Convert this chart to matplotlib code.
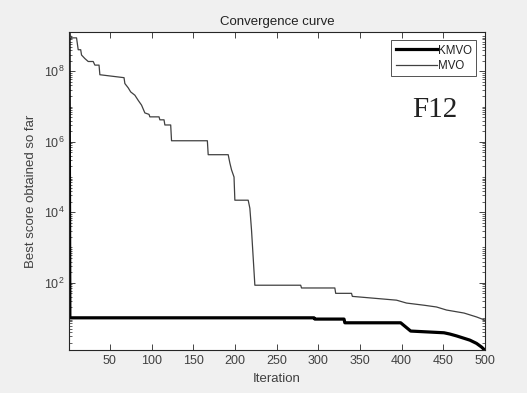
import matplotlib
matplotlib.use("Agg")
import matplotlib.pyplot as plt
from matplotlib.ticker import LogLocator, NullFormatter, FixedLocator

plt.rcParams["font.family"] = ["Liberation Sans", "DejaVu Sans"]

# KMVO best score per iteration (breakpoints)
kmvo_iter = [1, 2, 295, 296, 331, 332, 399, 411, 451, 458, 466, 474, 482, 490, 496, 500]
kmvo_val = [1.3e9, 10.1, 10.1, 9.3, 9.3, 7.3, 7.3, 4.25, 3.8, 3.5, 3.1, 2.7, 2.35, 1.9, 1.5, 1.22]

# MVO best score per iteration (repeated iterations mark the step corners)
mvo_iter = [1, 3, 4, 10, 12, 15, 16, 20, 24, 30, 32, 37, 38, 67, 68, 72, 75, 80, 84, 88,
            92, 97, 98, 109, 110, 115, 116, 123, 124, 167, 168, 192, 194, 196, 199, 200,
            216, 218, 220, 224, 279, 280, 320, 321, 340, 341, 394, 406, 427, 442, 454,
            475, 490, 500]
mvo_val = [1.3e9, 1.0e9, 8.9e8, 8.9e8, 4.1e8, 4.1e8, 2.9e8, 2.3e8, 1.9e8, 1.9e8, 1.5e8, 1.5e8,
           8.0e7, 6.6e7, 4.5e7, 3.4e7, 2.6e7, 2.1e7, 1.5e7, 1.1e7,
           6.6e6, 6.0e6, 5.1e6, 5.1e6, 4.2e6, 4.2e6, 3.0e6, 3.0e6, 1.07e6, 1.07e6, 4.3e5,
           4.3e5, 2.5e5, 1.6e5, 1.0e5, 2.2e4, 2.2e4, 1.3e4, 3.1e3, 85, 85, 71, 71, 50, 50,
           41, 32, 26.5, 23, 20.5, 16.8, 13.8, 10.7, 8.7]

x_ticks = [50, 100, 150, 200, 250, 300, 350, 400, 450, 500]
y_ticks = [1e2, 1e4, 1e6, 1e8]

fig = plt.figure(figsize=(5.27, 3.93), dpi=100, facecolor="#f0f0f0")
ax = fig.add_axes([0.131, 0.109, 0.789, 0.81])
ax.set_facecolor("white")

ax.semilogy(kmvo_iter, kmvo_val, color="black", linewidth=2.3, label="KMVO")
ax.semilogy(mvo_iter, mvo_val, color="#404040", linewidth=0.9, label="MVO")

ax.set_xlim(1, 500)
ax.set_ylim(1.22, 1.32e9)
ax.xaxis.set_major_locator(FixedLocator(x_ticks))
ax.yaxis.set_major_locator(FixedLocator(y_ticks))
ax.yaxis.set_minor_locator(LogLocator(base=10, subs=range(1, 10), numticks=30))
ax.yaxis.set_minor_formatter(NullFormatter())

text_col = "#404040"
ax.tick_params(axis="both", which="both", direction="in", top=True, right=True,
               colors="#262626", labelcolor=text_col, labelsize=9)
ax.tick_params(which="major", length=4, width=0.6)
ax.tick_params(which="minor", length=2, width=0.5)
for s in ax.spines.values():
    s.set_color("#262626")
    s.set_linewidth(0.8)

ax.set_title("Convergence curve", fontsize=9.5, color="#222222", pad=5)
ax.set_xlabel("Iteration", fontsize=9.5, color=text_col, labelpad=4)
ax.set_ylabel("Best score obtained so far", fontsize=9.5, color=text_col, labelpad=5)

leg = ax.legend(loc="upper right", fontsize=8.3, frameon=True, fancybox=False,
                handlelength=3.6, handletextpad=0.1, borderpad=0.35, labelspacing=0.3,
                borderaxespad=0.75)
leg.get_frame().set_edgecolor("#262626")
leg.get_frame().set_linewidth(0.7)
for t in leg.get_texts():
    t.set_color("#222222")

ax.text(0.935, 0.755, "F12", transform=ax.transAxes, ha="right", va="center",
        fontsize=21, family=["Liberation Serif", "DejaVu Serif"], color="#222222")

fig.savefig("out.png", dpi=100, facecolor=fig.get_facecolor())
